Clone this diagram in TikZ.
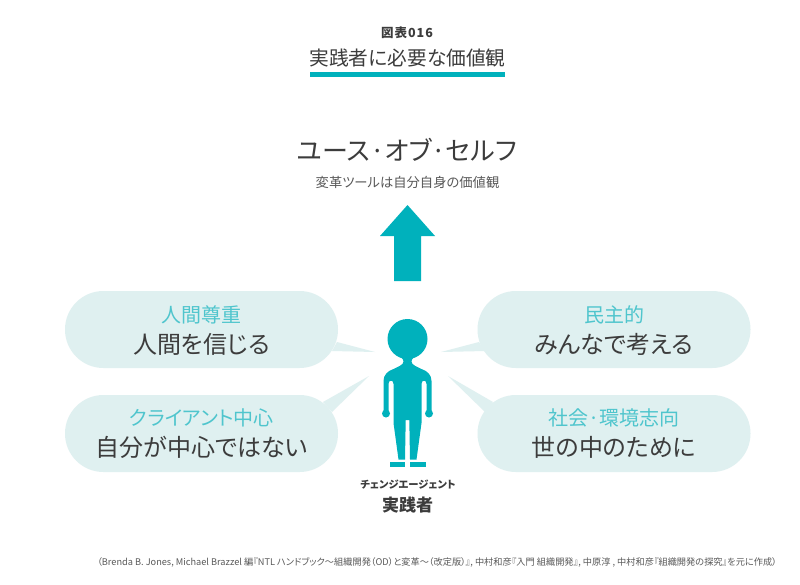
\documentclass[tikz,border=0pt]{standalone}
\usepackage{fontspec}
\setmainfont[RawFeature=+palt]{Noto Sans CJK JP}
\usetikzlibrary{positioning}
\definecolor{teal1}{HTML}{00B1BC}
\definecolor{teal2}{HTML}{4FC5CD}
\definecolor{pale}{HTML}{DFF0F0}
\definecolor{ink}{HTML}{3C3C3C}
\begin{document}
\begin{tikzpicture}[x=1pt,y=-1pt,inner sep=0pt,
  bubble/.style={fill=pale,minimum width=273pt,minimum height=77pt,rounded corners=38.4pt},
  tail/.style={fill=pale},
  head/.style={font=\fontsize{20}{20}\selectfont,text=teal2},
  say/.style={font=\fontsize{24}{24}\selectfont,text=ink}]
  \useasboundingbox (0,0) rectangle (800,584);
  \fill[white] (0,0) rectangle (800,584);
  % title
  \node[font=\bfseries\fontsize{12.5}{12.5}\selectfont\addfontfeature{LetterSpace=8},text=ink] (fig) at (407,33) {図表016};
  \node[font=\fontsize{19.7}{19.7}\selectfont,text=ink] (title) at (407.5,58) {実践者に必要な価値観};
  \fill[teal1] (310,72) rectangle (505,76.5);
  \node[font=\fontsize{26}{26}\selectfont,text=ink] (self) at (407,150) {ユース·オブ·セルフ};
  \node[font=\fontsize{13.3}{13.3}\selectfont,text=ink!85] (sub) at (407.5,182) {変革ツールは自分自身の価値観};
  % arrow
  \fill[teal1] (407.5,205) -- (435,236) -- (421,236) -- (421,281) -- (394,281) -- (394,236) -- (380,236) -- cycle;
  % bubbles
  \node[bubble] (lt) at (201.5,329.5) {};
  \node[bubble] (lb) at (201.5,433.5) {};
  \node[bubble] (rt) at (614,329.5) {};
  \node[bubble] (rb) at (614,433.5) {};
  \fill[tail] (337,342) -- (375,352) -- (332,351) -- cycle;
  \fill[tail] (323,402) -- (369,376) -- (332,412) -- cycle;
  \fill[tail] (479,342) -- (441,352) -- (485,351) -- cycle;
  \fill[tail] (493,402) -- (448,376) -- (485,412) -- cycle;
  \node[head] (lt1) at (201.5,315) {人間尊重};
  \node[say] (lt2) at (201.5,344) {人間を信じる};
  \node[head] (lb1) at (201.5,418) {クライアント中心};
  \node[say] (lb2) at (201.5,447) {自分が中心ではない};
  \node[head] (rt1) at (614,315) {民主的};
  \node[say] (rt2) at (614,344) {みんなで考える};
  \node[head] (rb1) at (614,418) {社会·環境志向};
  \node[say] (rb2) at (614,447) {世の中のために};
  % person
  \begin{scope}[shift={(407.5,0)}]
    \fill[teal1] (0,339) circle (20);
    \fill[teal1] (-12,353) .. controls (-8,357) and (-4,358) .. (-4,361.5)
      .. controls (-4,365) and (-10,367) .. (-14,369) .. controls (-20,371) and (-24,375) .. (-24,381)
      -- (-24,413) -- (-19,413) -- (-19,384) .. controls (-19,379.5) and (-14,379.5) .. (-14,384)
      -- (-14,423) -- (-9,459.5) -- (-2.5,459.5) -- (-1.8,420) -- (1.8,420) -- (2.5,459.5)
      -- (9,459.5) -- (14,423) -- (14,384) .. controls (14,379.5) and (19,379.5) .. (19,384)
      -- (19,413) -- (24,413) -- (24,381) .. controls (24,375) and (20,371) .. (14,369)
      .. controls (10,367) and (4,365) .. (4,361.5) .. controls (4,358) and (8,357) .. (12,353) -- cycle;
    \foreach \s in {1,-1} {
      \fill[teal1] (\s*21.5,413.5) circle (4);
      \fill[teal1] (\s*18,461.7) rectangle (\s*2.5,466.7);
    }
  \end{scope}
  \node[font=\bfseries\fontsize{10.3}{10.3}\selectfont,text=ink] (role) at (408,485) {チェンジエージェント};
  \node[font=\bfseries\fontsize{17}{17}\selectfont,text=ink] (person) at (407.5,505) {実践者};
  % source
  \node[font=\fontsize{9.2}{9.2}\selectfont,text=ink!85,anchor=east] (src) at (777,562) {（Brenda B. Jones, Michael Brazzel 編『NTL ハンドブック～組織開発（OD）と変革～（改定版）』, 中村和彦『入門 組織開発』, 中原淳 , 中村和彦『組織開発の探究』を元に作成）};
\end{tikzpicture}
\end{document}
